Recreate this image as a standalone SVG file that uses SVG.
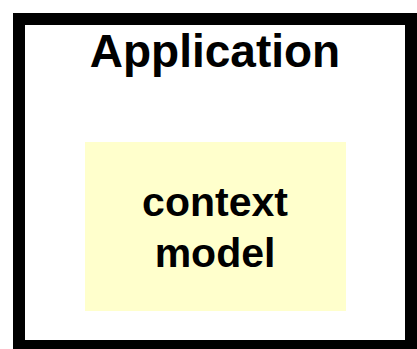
<svg xmlns="http://www.w3.org/2000/svg" width="417" height="349" viewBox="0 0 417 349">
  <style>
    .lbl { font-family: "Liberation Sans", Arial, sans-serif; font-weight: bold; fill: #000; text-anchor: middle; }
  </style>
  <rect width="417" height="349" fill="#fff"/>
  <g id="application">
    <rect x="19" y="19" width="392" height="327" fill="#fff" stroke="#000" stroke-width="12"/>
    <text class="lbl" x="215" y="67" font-size="46">Application</text>
  </g>
  <g id="context-model">
    <rect x="85" y="142" width="261" height="169" fill="#ffffcc"/>
    <text class="lbl" x="215" y="216" font-size="41">context</text>
    <text class="lbl" x="215" y="267" font-size="41">model</text>
  </g>
  <g id="connectors"/>
</svg>
